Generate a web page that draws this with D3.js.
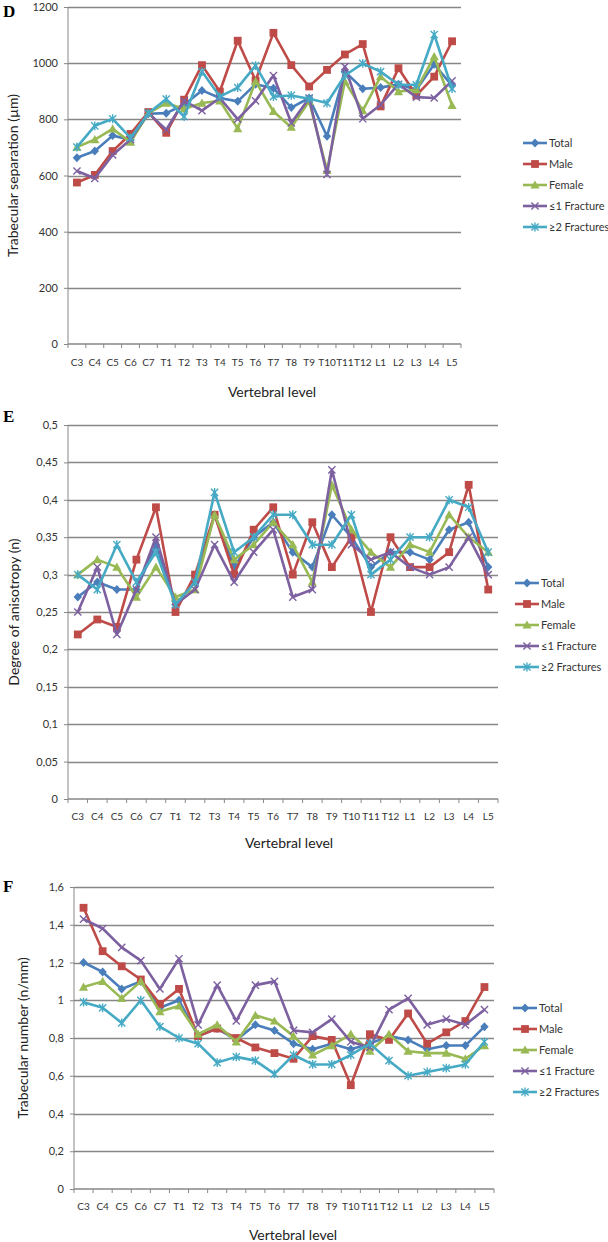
<!DOCTYPE html>
<html><head><meta charset="utf-8">
<script src="https://cdn.jsdelivr.net/npm/d3@7"></script>
<style>body{margin:0;background:#fff}svg{display:block}</style>
</head><body>
<svg id="c" width="608" height="1242"></svg>
<script>
const categories = ["C3","C4","C5","C6","C7","T1","T2","T3","T4","T5","T6","T7","T8","T9","T10","T11","T12","L1","L2","L3","L4","L5"];
const seriesNames = ["Total","Male","Female","≤1 Fracture","≥2 Fractures"];

// Panel D: trabecular separation (µm)
const sepTicks = [0,200,400,600,800,1000,1200];
const sepTotal  = [663,687,742,727,820,822,852,903,876,864,925,911,842,876,740,970,909,913,925,905,996,920];
const sepMale   = [575,602,687,748,826,752,870,993,899,1080,938,1108,993,917,976,1031,1068,846,982,885,952,1078];
const sepFemale = [701,728,766,719,822,858,837,858,866,767,935,828,772,864,618,935,831,952,899,905,1023,850];
const sepLe1    = [616,590,673,728,822,763,866,831,876,801,866,956,787,876,604,988,802,852,925,879,876,937];
const sepGe2    = [701,777,802,734,822,872,810,970,881,913,991,881,885,873,858,956,999,970,923,923,1102,909];

// Panel E: degree of anisotropy (n)
const aniTicks = [0,0.05,0.1,0.15,0.2,0.25,0.3,0.35,0.4,0.45,0.5];
const aniTotal  = [0.27,0.29,0.28,0.28,0.34,0.26,0.29,0.38,0.31,0.35,0.37,0.33,0.31,0.38,0.35,0.31,0.33,0.33,0.32,0.36,0.37,0.31];
const aniMale   = [0.22,0.24,0.23,0.32,0.39,0.25,0.30,0.38,0.30,0.36,0.39,0.30,0.37,0.31,0.35,0.25,0.35,0.31,0.31,0.33,0.42,0.28];
const aniFemale = [0.30,0.32,0.31,0.27,0.31,0.27,0.28,0.38,0.32,0.34,0.37,0.34,0.29,0.42,0.36,0.33,0.31,0.34,0.33,0.38,0.35,0.33];
const aniLe1    = [0.25,0.31,0.22,0.28,0.35,0.26,0.28,0.34,0.29,0.33,0.36,0.27,0.28,0.44,0.34,0.32,0.33,0.31,0.30,0.31,0.35,0.30];
const aniGe2    = [0.30,0.28,0.34,0.29,0.33,0.26,0.29,0.41,0.33,0.35,0.38,0.38,0.34,0.34,0.38,0.30,0.32,0.35,0.35,0.40,0.39,0.33];

// Panel F: trabecular number (n/mm)
const numTicks = [0,0.2,0.4,0.6,0.8,1.0,1.2,1.4,1.6];
const numTotal  = [1.20,1.15,1.06,1.10,0.96,1.00,0.81,0.85,0.79,0.87,0.84,0.77,0.74,0.77,0.74,0.77,0.81,0.79,0.74,0.76,0.76,0.86];
const numMale   = [1.49,1.26,1.18,1.11,0.98,1.06,0.81,0.85,0.80,0.75,0.72,0.69,0.81,0.79,0.55,0.82,0.79,0.93,0.77,0.83,0.89,1.07];
const numFemale = [1.07,1.10,1.01,1.10,0.94,0.97,0.82,0.87,0.78,0.92,0.89,0.81,0.71,0.76,0.82,0.73,0.82,0.73,0.72,0.72,0.69,0.76];
const numLe1    = [1.43,1.38,1.28,1.21,1.06,1.22,0.87,1.08,0.89,1.08,1.10,0.84,0.83,0.90,0.78,0.75,0.95,1.01,0.87,0.90,0.87,0.95];
const numGe2    = [0.99,0.96,0.88,1.00,0.86,0.80,0.77,0.67,0.70,0.68,0.61,0.71,0.66,0.66,0.71,0.77,0.68,0.60,0.62,0.64,0.66,0.78];

const colors = ["#4a7ebb","#be4b48","#98b954","#7d60a0","#46aac5"];
const markers = ["diamond","square","triangle","x","star"];
const fmt = v => String(+v.toFixed(2)).replace(".", ",");

const panels = [
  {letter:"D", title:"Trabecular separation (µm)", ticks:sepTicks, max:1200, series:[sepTotal,sepMale,sepFemale,sepLe1,sepGe2],
   left:68, right:461, top:7, bottom:344, letterY:17, titleX:13, xlabY:366, xtitleX:272, xtitleY:397, legX:523, legY:143, fmt:d=>String(d)},
  {letter:"E", title:"Degree of anisotropy (n)", ticks:aniTicks, max:0.5, series:[aniTotal,aniMale,aniFemale,aniLe1,aniGe2],
   left:68, right:498, top:425, bottom:799, letterY:422, titleX:14, xlabY:820, xtitleX:289, xtitleY:848, legX:515, legY:583, fmt:fmt},
  {letter:"F", title:"Trabecular number (n/mm)", ticks:numTicks, max:1.6, series:[numTotal,numMale,numFemale,numLe1,numGe2],
   left:74, right:494, top:887, bottom:1189, letterY:892, titleX:23, xlabY:1210, xtitleX:293, xtitleY:1240, legX:513, legY:1008, fmt:fmt}
];

const svg = d3.select("#c");

function drawMarker(g, type, color) {
  if (type === "diamond") g.append("path").attr("d","M0,-4.5L4.2,0L0,4.5L-4.2,0Z").attr("fill",color);
  else if (type === "square") g.append("rect").attr("x",-3.9).attr("y",-3.9).attr("width",7.8).attr("height",7.8).attr("fill",color);
  else if (type === "triangle") g.append("path").attr("d","M0,-4.6L4.6,3.6L-4.6,3.6Z").attr("fill",color);
  else if (type === "x") g.append("path").attr("d","M-3.6,-3.6L3.6,3.6M-3.6,3.6L3.6,-3.6").attr("stroke",color).attr("stroke-width",1.4).attr("fill","none");
  else if (type === "star") g.append("path").attr("d","M-3.6,-3.6L3.6,3.6M-3.6,3.6L3.6,-3.6M0,-4.4L0,4.4").attr("stroke",color).attr("stroke-width",1.4).attr("fill","none");
}

panels.forEach(p => {
  const x = d3.scaleBand().domain(categories).range([p.left, p.right]).padding(0);
  const y = d3.scaleLinear().domain([0, p.max]).range([p.bottom, p.top]);
  const g = svg.append("g");

  // gridlines
  g.selectAll(".grid").data(p.ticks.slice(1)).join("line")
    .attr("x1", p.left).attr("x2", p.right)
    .attr("y1", d => Math.round(y(d))+0.5).attr("y2", d => Math.round(y(d))+0.5)
    .attr("stroke", "#878787").attr("stroke-width", 1.3);

  // y axis
  const ya = g.append("g").attr("transform", `translate(${p.left},0)`)
    .call(d3.axisLeft(y).tickValues(p.ticks).tickFormat(p.fmt).tickSize(4).tickPadding(6));
  ya.select(".domain").attr("stroke","#878787").attr("d", `M0,${p.top}V${p.bottom}`);
  ya.selectAll(".tick line").attr("stroke","#878787");
  ya.selectAll(".tick text").attr("font-family","Lato, 'Open Sans', sans-serif").attr("font-size", 11).attr("fill","#333");

  // x axis
  const xa = g.append("g").attr("transform", `translate(0,${p.bottom})`)
    .call(d3.axisBottom(x).tickSize(0).tickPadding(0));
  xa.select(".domain").attr("stroke","#878787").attr("stroke-width",1.3).attr("d", `M${p.left},0H${p.right}`);
  xa.selectAll(".tick text").attr("font-family","Lato, 'Open Sans', sans-serif").attr("font-size", 10).attr("fill","#333")
    .attr("dy", null).attr("y", p.xlabY - p.bottom);
  const edges = categories.map(c => x(c)).concat([p.right]);
  xa.selectAll(".edge").data(edges).join("line").attr("class","edge")
    .attr("x1", d => d).attr("x2", d => d).attr("y1", 0).attr("y2", 4).attr("stroke","#878787");

  // series
  p.series.forEach((vals, si) => {
    const line = d3.line().x((d,i) => x(categories[i]) + x.bandwidth()/2).y(d => y(d));
    g.append("path").datum(vals).attr("d", line).attr("fill","none")
      .attr("stroke", colors[si]).attr("stroke-width", 2.6).attr("stroke-linejoin","round");
    vals.forEach((v,i) => {
      const mg = g.append("g").attr("transform", `translate(${x(categories[i]) + x.bandwidth()/2},${y(v)})`);
      drawMarker(mg, markers[si], colors[si]);
    });
  });

  // titles
  svg.append("text").attr("x", 3).attr("y", p.letterY).text(p.letter)
    .attr("font-family","'Liberation Serif', 'DejaVu Serif', serif").attr("font-weight","bold").attr("font-size",17);
  svg.append("text").attr("transform", `translate(${p.titleX},${(p.top+p.bottom)/2}) rotate(-90)`)
    .attr("text-anchor","middle").attr("dy","0.35em").text(p.title)
    .attr("font-family","Lato, 'Open Sans', sans-serif").attr("font-size",14).attr("fill","#222");
  svg.append("text").attr("x", p.xtitleX).attr("y", p.xtitleY).attr("text-anchor","middle").text("Vertebral level")
    .attr("font-family","Lato, 'Open Sans', sans-serif").attr("font-size",14).attr("fill","#222");

  // legend
  seriesNames.forEach((n, si) => {
    const ly = p.legY + si*21;
    const lg = svg.append("g");
    lg.append("line").attr("x1", p.legX).attr("x2", p.legX+24).attr("y1", ly).attr("y2", ly)
      .attr("stroke", colors[si]).attr("stroke-width", 2.6);
    const mg = lg.append("g").attr("transform", `translate(${p.legX+12},${ly})`);
    drawMarker(mg, markers[si], colors[si]);
    lg.append("text").attr("x", p.legX+26).attr("y", ly).attr("dy","0.35em").text(n)
      .attr("font-family","Lato, 'Open Sans', sans-serif").attr("font-size",11).attr("fill","#333");
  });
});
</script>
</body></html>
